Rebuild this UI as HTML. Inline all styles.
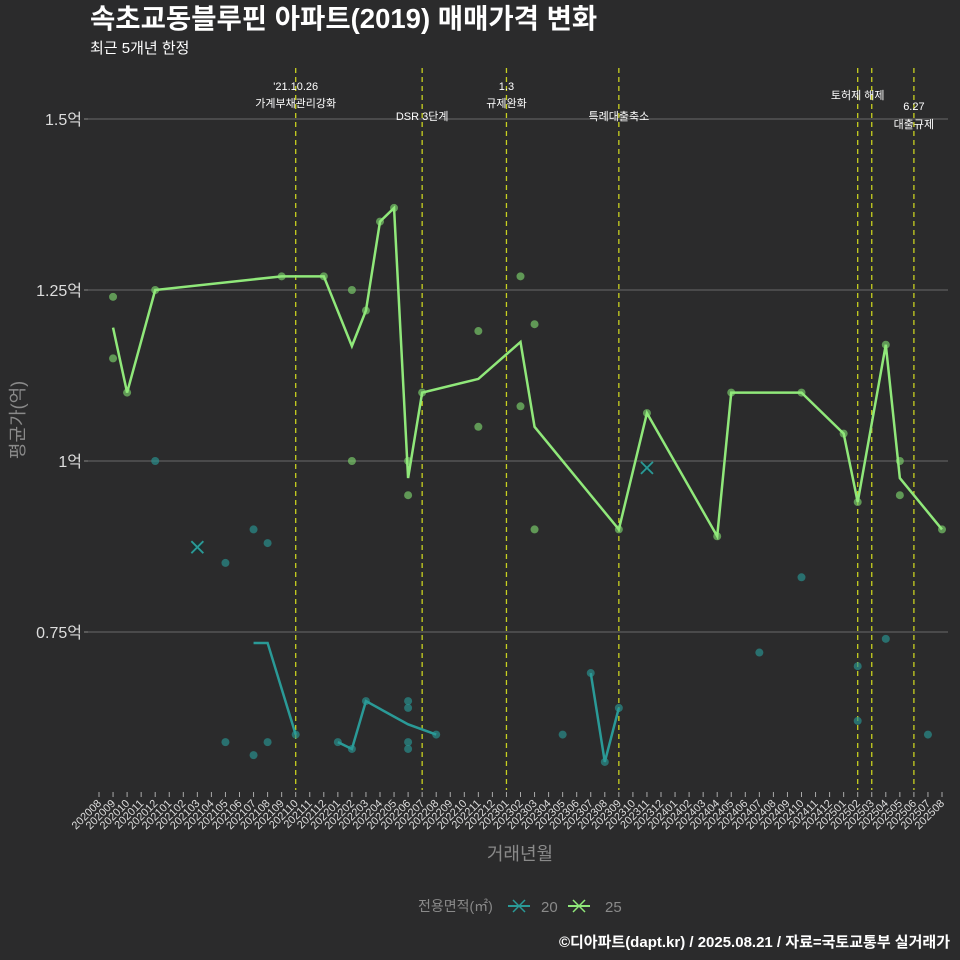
<!DOCTYPE html>
<html><head><meta charset="utf-8"><style>
html,body{margin:0;padding:0;background:#2b2b2c;overflow:hidden;width:960px;height:960px;}
svg{display:block;}
svg text{font-family:"Liberation Sans","Noto Sans CJK KR",sans-serif;}
</style></head><body>
<svg id="chart" width="960" height="960" xmlns="http://www.w3.org/2000/svg">
<rect width="960" height="960" fill="#2b2b2c"/>
<text x="90" y="28" font-size="27.5" font-weight="bold" fill="#ffffff">속초교동블루핀 아파트(2019) 매매가격 변화</text>
<text x="90" y="53" font-size="15" fill="#ffffff">최근 5개년 한정</text>
<g id="grid"></g><g id="events"></g><g id="series"></g><g id="axes"></g>
<text transform="translate(24,420) rotate(-90)" text-anchor="middle" font-size="18" fill="#8a8a8a">평균가(억)</text>
<text x="520" y="860" text-anchor="middle" font-size="18" fill="#8a8a8a">거래년월</text>
<g>
<text x="418" y="911" font-size="14" fill="#8a8a8a">전용면적(㎡)</text>
<g><line x1="508" y1="906" x2="530" y2="906" stroke="#2a9a97" stroke-width="2"/><line x1="513" y1="900" x2="525" y2="912" stroke="#2a9a97" stroke-width="1.5"/><line x1="525" y1="900" x2="513" y2="912" stroke="#2a9a97" stroke-width="1.5"/><text x="541" y="912" font-size="15" fill="#8a8a8a">20</text></g>
<g><line x1="568" y1="906" x2="590" y2="906" stroke="#90e87a" stroke-width="2"/><line x1="573" y1="900" x2="585" y2="912" stroke="#90e87a" stroke-width="1.5"/><line x1="585" y1="900" x2="573" y2="912" stroke="#90e87a" stroke-width="1.5"/><text x="605" y="912" font-size="15" fill="#8a8a8a">25</text></g>
</g>
<text x="950" y="947" text-anchor="end" font-size="15" font-weight="bold" fill="#ffffff">©디아파트(dapt.kr) / 2025.08.21 / 자료=국토교통부 실거래가</text>
</svg>
<script>
const months=[];for(let y=2020,m=8;months.length<61;){months.push(y+String(m).padStart(2,'0'));m++;if(m>12){m=1;y++;}}
const yTicks=[0.75,1,1.25,1.5];
const yTickLabels=["0.75억","1억","1.25억","1.5억"];
const eventIdx=[14,23,29,37,54,55,58];
const eventLabels=[["'21.10.26","가계부채관리강화"],["DSR 3단계"],["1.3","규제완화"],["특례대출축소"],["토허제 해제"],[""],["6.27","대출규제"]];
const eventLabelY=[[90,107],[120],[90,107],[120],[99],[0],[110,128]];
const g25LineIdx=[1,2,4,13,16,18,19,20,21,22,23,27,30,31,37,39,44,45,50,53,54,56,57,60];
const g25LineVal=[1.195,1.10,1.25,1.27,1.27,1.168,1.22,1.35,1.37,0.975,1.10,1.12,1.174,1.05,0.90,1.07,0.89,1.10,1.10,1.04,0.94,1.17,0.975,0.90];
const g25PtIdx=[1,1,2,4,13,16,18,18,19,20,21,22,22,23,27,27,30,30,31,31,37,39,44,45,50,53,54,56,57,57,60];
const g25PtVal=[1.24,1.15,1.10,1.25,1.27,1.27,1.25,1.0,1.22,1.35,1.37,1.0,0.95,1.10,1.19,1.05,1.27,1.08,1.20,0.90,0.90,1.07,0.89,1.10,1.10,1.04,0.94,1.17,1.0,0.95,0.90];
const g20LineSegIdx=[[11,12,14],[17,18,19,22,24],[35,36,37]];
const g20LineSegVal=[[0.734,0.734,0.60],[0.589,0.579,0.649,0.615,0.60],[0.69,0.56,0.639]];
const g20PtIdx=[4,9,9,11,11,12,12,14,17,18,19,22,22,22,22,24,33,35,36,37,47,50,54,54,56,59];
const g20PtVal=[1.0,0.851,0.589,0.90,0.570,0.88,0.589,0.60,0.589,0.579,0.649,0.649,0.639,0.589,0.579,0.60,0.60,0.69,0.56,0.639,0.72,0.83,0.70,0.62,0.74,0.60];
const g20XIdx=[7,39];const g20XVal=[0.874,0.99];
const X0=88,X1=948,Y0=68,Y1=790;
const xs=i=>99+i*(942-99)/60;
const ys=v=>461-(v-1)*684;
const NS="http://www.w3.org/2000/svg";
function mk(t,a,p){const e=document.createElementNS(NS,t);for(const k in a)e.setAttribute(k,a[k]);p.appendChild(e);return e;}
const grid=document.getElementById('grid'),ev=document.getElementById('events'),se=document.getElementById('series'),ax=document.getElementById('axes');
yTicks.forEach((v,k)=>{
 const l=mk('line',{x1:X0,x2:X1,y1:ys(v),y2:ys(v),stroke:'#5e5e5e','stroke-width':1.2},grid);
 
 
 const t=mk('text',{x:82,y:ys(v)+6,'text-anchor':'end','font-size':16,fill:'#dddddd'},ax);t.textContent=yTickLabels[k];
 
 
 mk('line',{x1:84,x2:88,y1:ys(v),y2:ys(v),stroke:'#888'},ax);
});
months.forEach((m,i)=>{
 mk('line',{x1:xs(i),x2:xs(i),y1:792,y2:797,stroke:'#aaa'},ax);
 const t=mk('text',{transform:`translate(${xs(i)+3},${804}) rotate(-45)`,'text-anchor':'end','font-size':11,fill:'#dddddd'},ax);t.textContent=m;
 
 
});
eventIdx.forEach((i,k)=>{
 const l=mk('line',{x1:xs(i),x2:xs(i),y1:Y0,y2:Y1,stroke:'#c8d020','stroke-width':1.3,'stroke-dasharray':'5,4'},ev);
 
 
 eventLabels[k].forEach((s,j)=>{if(!s)return;
  const t=mk('text',{x:xs(i),y:eventLabelY[k][j],'text-anchor':'middle','font-size':11,fill:'#ffffff'},ev);t.textContent=s;
  
  });
});
function pts(ix,vs){return ix.map((i,k)=>xs(i)+','+ys(vs[k])).join(' ');}
g20PtIdx.forEach((i,k)=>{const c=mk('circle',{cx:xs(i),cy:ys(g20PtVal[k]),r:4,fill:'#2a8f8c','fill-opacity':0.7},se);
 
 });
g20LineSegIdx.forEach((ix,k)=>{const p=mk('polyline',{points:pts(ix,g20LineSegVal[k]),fill:'none',stroke:'#2a9a97','stroke-width':2.5},se);
 
 });
g25PtIdx.forEach((i,k)=>{const c=mk('circle',{cx:xs(i),cy:ys(g25PtVal[k]),r:4,fill:'#77c868','fill-opacity':0.7},se);
 
 });
const p25=mk('polyline',{points:pts(g25LineIdx,g25LineVal),fill:'none',stroke:'#90e87a','stroke-width':2.5},se);


g20XIdx.forEach((i,k)=>{const x=xs(i),y=ys(g20XVal[k]);
 const g=mk('g',{},se);
 
 
 mk('circle',{cx:x,cy:y,r:5,fill:'#1a3030'},g);
 mk('line',{x1:x-6,y1:y-6,x2:x+6,y2:y+6,stroke:'#2a9a97','stroke-width':1.8},g);
 mk('line',{x1:x+6,y1:y-6,x2:x-6,y2:y+6,stroke:'#2a9a97','stroke-width':1.8},g);});
</script>
</body></html>
